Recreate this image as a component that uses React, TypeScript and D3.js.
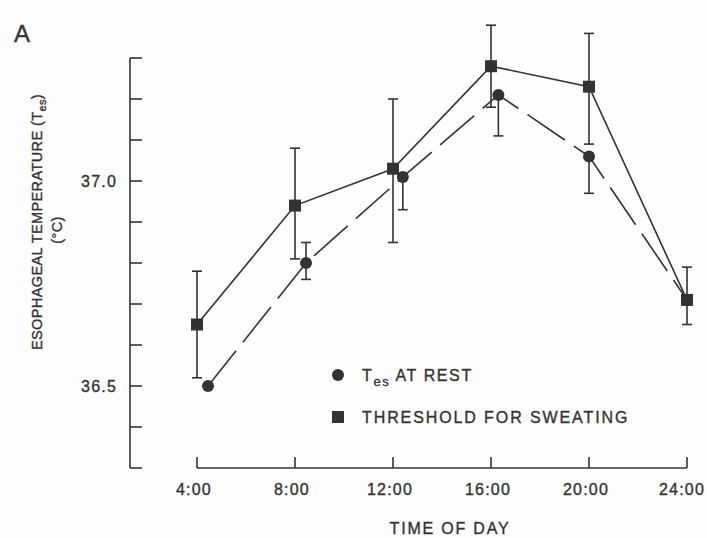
import React from 'react';
import * as d3 from 'd3';

// ---- data ----
const xTickHours = [4, 8, 12, 16, 20, 24];
const xTickLabels = ['4:00', '8:00', '12:00', '16:00', '20:00', '24:00'];
const yMinorTicks = [36.3, 36.4, 36.5, 36.6, 36.7, 36.8, 36.9, 37.0, 37.1, 37.2, 37.3];
const yLabelTicks = [36.5, 37.0];

// Threshold for sweating (squares, solid line)
const sweatHours = [4, 8, 12, 16, 20, 24];
const sweatMean = [36.65, 36.94, 37.03, 37.28, 37.23, 36.71];
const sweatUpper = [36.78, 37.08, 37.2, 37.38, 37.36, 36.79];
const sweatLower = [36.52, 36.81, 36.85, 37.18, 37.09, 36.65];

// Tes at rest (circles, dashed line)
const restHours = [4.45, 8.45, 12.4, 16.3, 20, 24];
const restMean = [36.5, 36.8, 37.01, 37.21, 37.06, 36.71];
const restUpper: (number | null)[] = [null, 36.85, null, null, null, null];
const restLower: (number | null)[] = [null, 36.76, 36.93, 37.11, 36.97, null];

const W = 707;
const H = 538;
const INK = '#333333';
const FONT = "'Liberation Sans', Arial, Helvetica, sans-serif";

export default function App() {
  const x = d3.scaleLinear().domain([4, 24]).range([197, 687]);
  const y = d3.scaleLinear().domain([36.3, 37.3]).range([468, 58]);
  const axisX = 130;
  const axisY = 468;

  const line = d3
    .line<[number, number]>()
    .x((d) => x(d[0]))
    .y((d) => y(d[1]));

  const sweatPts = sweatHours.map((h, i) => [h, sweatMean[i]] as [number, number]);
  const restPts = restHours.map((h, i) => [h, restMean[i]] as [number, number]);

  const cap = 5;
  const txt = { fill: INK, stroke: INK, strokeWidth: 0.35 };

  return (
    <svg
      width={W}
      height={H}
      style={{ position: 'absolute', left: 0, top: 0, background: '#fff' }}
      fontFamily={FONT}
    >
      <rect width={W} height={H} fill="#fdfdfd" />
      {/* Panel letter */}
      <text x={14} y={42} fontSize={24} {...txt}>A</text>

      {/* Y axis */}
      <line x1={axisX} x2={axisX} y1={y(37.3)} y2={y(36.3)} stroke={INK} strokeWidth={1.6} />
      {yMinorTicks.map((v) => (
        <line key={v} x1={axisX} x2={axisX + 12} y1={y(v)} y2={y(v)} stroke={INK} strokeWidth={1.6} />
      ))}
      {yLabelTicks.map((v) => (
        <text
          key={v}
          x={117}
          y={y(v)}
          dy="0.36em"
          textAnchor="end"
          fontSize={16}
          letterSpacing={1.2}
          {...txt}
        >
          {d3.format('.1f')(v)}
        </text>
      ))}

      {/* Y title */}
      <g transform="translate(42,222) rotate(-90)">
        <text textAnchor="middle" fontSize={14.5} letterSpacing={0.4} {...txt}>
          ESOPHAGEAL TEMPERATURE (T
          <tspan fontSize={11} dy={4}>es</tspan>
          <tspan dy={-4}>)</tspan>
        </text>
      </g>
      <g transform="translate(62,230) rotate(-90)">
        <text textAnchor="middle" fontSize={14.5} letterSpacing={0.4} {...txt}>
          (°C)
        </text>
      </g>

      {/* X axis */}
      <line x1={x(4)} x2={x(24)} y1={axisY} y2={axisY} stroke={INK} strokeWidth={1.6} />
      {xTickHours.map((h, i) => (
        <g key={h}>
          <line x1={x(h)} x2={x(h)} y1={axisY} y2={axisY - 11} stroke={INK} strokeWidth={1.6} />
          <text
            x={Math.min(x(h) - 3, 682)}
            y={495}
            textAnchor="middle"
            fontSize={16}
            letterSpacing={1.2}
            {...txt}
          >
            {xTickLabels[i]}
          </text>
        </g>
      ))}
      <text x={450} y={534} textAnchor="middle" fontSize={16} letterSpacing={1.8} {...txt}>
        TIME OF DAY
      </text>

      {/* Lines */}
      <path d={line(restPts) || ''} fill="none" stroke={INK} strokeWidth={1.6} strokeDasharray="45,11" />
      <path d={line(sweatPts) || ''} fill="none" stroke={INK} strokeWidth={1.6} />

      {/* Error bars: sweating */}
      {sweatHours.map((h, i) => (
        <g key={'se' + h} stroke={INK} strokeWidth={1.6}>
          <line x1={x(h)} x2={x(h)} y1={y(sweatUpper[i])} y2={y(sweatLower[i])} />
          <line x1={x(h) - cap} x2={x(h) + cap} y1={y(sweatUpper[i])} y2={y(sweatUpper[i])} />
          <line x1={x(h) - cap} x2={x(h) + cap} y1={y(sweatLower[i])} y2={y(sweatLower[i])} />
        </g>
      ))}
      {/* Error bars: rest */}
      {restHours.map((h, i) => {
        const up = restUpper[i];
        const lo = restLower[i];
        return (
          <g key={'re' + h} stroke={INK} strokeWidth={1.6}>
            {up !== null && (
              <>
                <line x1={x(h)} x2={x(h)} y1={y(up)} y2={y(restMean[i])} />
                <line x1={x(h) - cap} x2={x(h) + cap} y1={y(up)} y2={y(up)} />
              </>
            )}
            {lo !== null && (
              <>
                <line x1={x(h)} x2={x(h)} y1={y(restMean[i])} y2={y(lo)} />
                <line x1={x(h) - cap} x2={x(h) + cap} y1={y(lo)} y2={y(lo)} />
              </>
            )}
          </g>
        );
      })}

      {/* Markers */}
      {restHours.map((h, i) => (
        <circle key={'rc' + h} cx={x(h)} cy={y(restMean[i])} r={6} fill={INK} />
      ))}
      {sweatHours.map((h, i) => (
        <rect
          key={'sq' + h}
          x={x(h) - 6}
          y={y(sweatMean[i]) - 6}
          width={12}
          height={12}
          fill={INK}
        />
      ))}

      {/* Legend */}
      <circle cx={338} cy={375} r={6} fill={INK} />
      <text x={362} y={381} fontSize={16} letterSpacing={1.6} {...txt}>
        T
        <tspan fontSize={13} dy={5}>es</tspan>
        <tspan dy={-5}> AT REST</tspan>
      </text>
      <rect x={332} y={411} width={12} height={12} fill={INK} />
      <text x={362} y={423} fontSize={16} letterSpacing={1.9} {...txt}>
        THRESHOLD FOR SWEATING
      </text>
    </svg>
  );
}
